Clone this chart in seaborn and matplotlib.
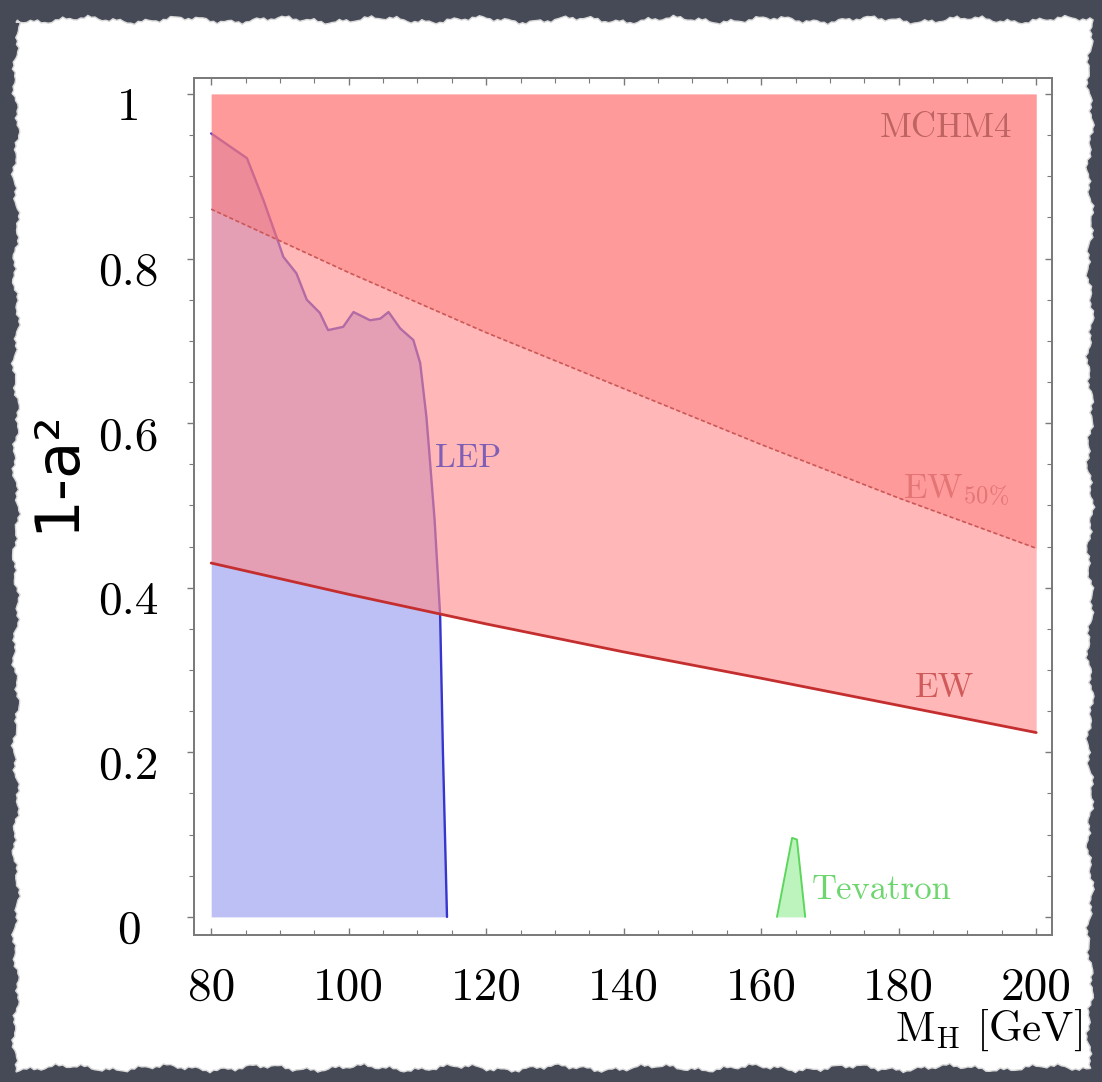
import numpy as np
import matplotlib
matplotlib.use("Agg")
import matplotlib.pyplot as plt
import matplotlib.transforms as mtransforms
from matplotlib.patches import Polygon
from matplotlib.ticker import MultipleLocator
import seaborn as sns

# ---------------- data ----------------
mh_ew = [80, 100, 120, 140, 160, 180, 200]
ew_limit = [0.430, 0.392, 0.356, 0.322, 0.290, 0.257, 0.224]
ew50_limit = [0.860, 0.783, 0.710, 0.642, 0.574, 0.509, 0.448]

lep_mh = [80.0, 85.2, 87.6, 89.8, 90.5, 92.4, 93.9, 95.8, 97.0, 99.2, 100.7,
          103.1, 104.6, 105.8, 107.5, 109.4, 110.4, 111.3, 111.7, 112.5,
          113.3, 113.7, 114.3]
lep_limit = [0.952, 0.922, 0.871, 0.819, 0.802, 0.782, 0.750, 0.734, 0.713,
             0.717, 0.735, 0.725, 0.727, 0.735, 0.715, 0.701, 0.673, 0.608,
             0.567, 0.482, 0.367, 0.203, 0.0]

tev_mh = [162.3, 164.5, 165.2, 166.4]
tev_limit = [0.0, 0.096, 0.094, 0.0]

x_ticks = [80, 100, 120, 140, 160, 180, 200]
x_ticklabels = ["80", "100", "120", "140", "160", "180", "200"]
y_ticks = [0, 0.2, 0.4, 0.6, 0.8, 1.0]
y_ticklabels = ["0", "0.2", "0.4", "0.6", "0.8", "1"]

# ---------------- style ----------------
sns.set_theme(style="white")
plt.rcParams['font.family'] = ['cmr10', 'DejaVu Serif']
plt.rcParams['mathtext.fontset'] = 'cm'
plt.rcParams['axes.unicode_minus'] = False

W, H = 1102, 1082
fig = plt.figure(figsize=(W / 100, H / 100), dpi=100, facecolor='#464a57')

# torn-paper backdrop (decoration)
def jag(n, ph):
    t = np.arange(n)
    return (2.2 * np.sin(0.23 * t + ph) + 1.6 * np.sin(0.81 * t + 2 * ph)
            + 1.0 * np.sin(2.7 * t + 3 * ph))

L, R, T, B = 16, 1090, 20, 1068
n = 300
top = np.c_[np.linspace(L, R, n), T + jag(n, 0.3)]
right = np.c_[R + jag(n, 1.1), np.linspace(T, B, n)]
bottom = np.c_[np.linspace(R, L, n), B + jag(n, 2.0)]
left = np.c_[L + jag(n, 2.7), np.linspace(B, T, n)]
pts = np.vstack([top, right, bottom, left])
pts = np.c_[pts[:, 0] / W, 1 - pts[:, 1] / H]
fig.patches.append(Polygon(pts, closed=True, transform=fig.transFigure,
                           facecolor='white', edgecolor='#d8d8d8', lw=1.0,
                           zorder=-10))

ax = fig.add_axes([194 / W, 1 - 935 / H, (1052 - 194) / W, (935 - 78) / H])
ax.set_facecolor('white')

# LEP excluded region (blue)
ax.fill_between(lep_mh, 0, lep_limit, color='#BCC0F5', lw=0, zorder=1)
sns.lineplot(x=lep_mh, y=lep_limit, color='#3636CC', lw=1.7, ax=ax,
             sort=False, estimator=None, zorder=2)

# EW region (pink) and 50% region (darker red)
ax.fill_between(mh_ew, ew_limit, 1, color=(1.0, 0.55, 0.55), alpha=0.62,
                lw=0, zorder=3)
ax.fill_between(mh_ew, ew50_limit, 1, color=(1.0, 0.40, 0.40), alpha=0.35,
                lw=0, zorder=4)
sns.lineplot(x=mh_ew, y=ew50_limit, color='#C95858', lw=1.2,
             linestyle=(0, (2.5, 1.5)), ax=ax, estimator=None, zorder=5)
sns.lineplot(x=mh_ew, y=ew_limit, color='#C42E2E', lw=2.0, ax=ax,
             estimator=None, zorder=6)

# Tevatron
ax.fill_between(tev_mh, 0, tev_limit, color='#BDF3BD', lw=0, zorder=3)
sns.lineplot(x=tev_mh, y=tev_limit, color='#5CD65C', lw=1.4, ax=ax,
             sort=False, estimator=None, zorder=4)

# labels inside plot
ax.text(186.9, 0.959, "MCHM4", color='#BF6363', fontsize=25,
        ha='center', va='center', zorder=10)
ax.text(180.7, 0.507, r"$\mathrm{EW}_{50\%}$", color='#E37575', fontsize=25,
        ha='left', va='baseline', zorder=10)
ax.text(182.4, 0.267, "EW", color='#D05A5A', fontsize=25,
        ha='left', va='baseline', zorder=10)
ax.text(112.6, 0.547, "LEP", color='#7F5FB5', fontsize=24,
        ha='left', va='baseline', zorder=10)
ax.text(167.4, 0.022, "Tevatron", color='#6ED66E', fontsize=25,
        ha='left', va='baseline', zorder=10)

# axes, ticks
ax.set_xlim(77.5, 202.3)
ax.set_ylim(-0.022, 1.0194)
ax.set_xlabel("")
ax.set_ylabel("")
ax.set_xticks(x_ticks)
ax.set_xticklabels(x_ticklabels)
ax.set_yticks(y_ticks)
ax.set_yticklabels(y_ticklabels)
ax.xaxis.set_minor_locator(MultipleLocator(5))
ax.yaxis.set_minor_locator(MultipleLocator(0.05))
for s in ax.spines.values():
    s.set_color('#7a7a7a')
    s.set_linewidth(1.3)
ax.tick_params(axis='x', which='both', direction='in', top=True, bottom=True,
               color='#7a7a7a', labelcolor='black', labelsize=34, pad=23)
ax.tick_params(axis='x', which='major', length=5, width=1.0)
ax.tick_params(axis='x', which='minor', length=3.5, width=0.8)
ax.tick_params(axis='y', which='both', direction='out', left=True, right=False,
               color='#7a7a7a', labelcolor='black', labelsize=34, pad=42)
ax.tick_params(axis='y', which='major', length=5, width=1.0)
ax.tick_params(axis='y', which='minor', length=3.5, width=0.8)

ax2 = ax.twinx()
ax2.set_ylim(ax.get_ylim())
ax2.set_yticks(y_ticks)
ax2.yaxis.set_minor_locator(MultipleLocator(0.05))
ax2.tick_params(axis='y', which='both', direction='in', right=True,
                labelright=False, color='#7a7a7a')
ax2.tick_params(axis='y', which='major', length=5, width=1.0)
ax2.tick_params(axis='y', which='minor', length=3.5, width=0.8)
ax2.grid(False)
for s in ax2.spines.values():
    s.set_color('#7a7a7a')
    s.set_linewidth(1.3)

off = mtransforms.ScaledTranslation(0, -0.10, fig.dpi_scale_trans)
for lab in ax.get_yticklabels():
    lab.set_ha('center')
    lab.set_transform(lab.get_transform() + off)

# axis titles
fig.text(1082 / W, 1 - 1041 / H, r"$\mathrm{M_H}$ [GeV]", fontsize=31,
         ha='right', va='baseline', color='black')
fig.text(57 / W, 1 - 471 / H, "1-a\u00b2", rotation=90, fontsize=44,
         family=['DejaVu Sans'], ha='center', va='center', color='black')

fig.savefig("out.png", dpi=100, facecolor=fig.get_facecolor())
